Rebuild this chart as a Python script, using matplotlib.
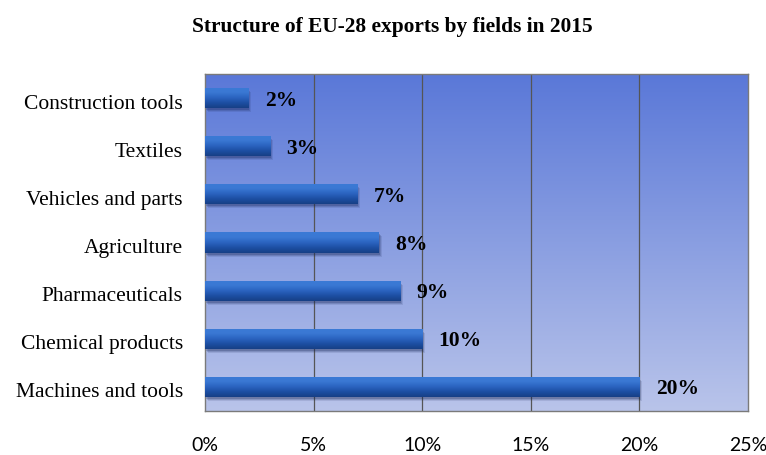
import matplotlib

matplotlib.use("Agg")
import matplotlib.pyplot as plt
import numpy as np
from matplotlib import transforms
from matplotlib.colors import LinearSegmentedColormap

categories = [
    "Construction tools",
    "Textiles",
    "Vehicles and parts",
    "Agriculture",
    "Pharmaceuticals",
    "Chemical products",
    "Machines and tools",
]
shares = [2, 3, 7, 8, 9, 10, 20]
x_ticks = [0, 5, 10, 15, 20, 25]
x_tick_labels = ["0%", "5%", "10%", "15%", "20%", "25%"]
title = "Structure of EU-28 exports by fields in 2015"

serif = "Liberation Serif"
sans = "Lato"

fig = plt.figure(figsize=(7.66, 4.56), dpi=100)
ax = fig.add_axes([0.2676, 0.0965, 0.7089, 0.739])

y = np.arange(len(categories))
ax.set_xlim(0, 25)
ax.set_ylim(len(categories) - 0.5, -0.5)

# background gradient of the plot area
bg_cmap = LinearSegmentedColormap.from_list("bg", ["#5a78d8", "#b9c4ea"])
ax.imshow(
    np.linspace(0, 1, 256).reshape(-1, 1),
    cmap=bg_cmap,
    aspect="auto",
    extent=(0, 25, len(categories) - 0.5, -0.5),
    zorder=0,
)

for tick in x_ticks[1:-1]:
    ax.axvline(tick, color="#555555", linewidth=0.9, zorder=1)

# soft bar shadows
for off, alpha in [(4, 0.12), (3, 0.18), (2, 0.25)]:
    shadow = transforms.offset_copy(ax.transData, fig=fig, x=off - 1, y=-off, units="dots")
    ax.barh(y, shares, height=0.42, color="#1a2a5a", alpha=alpha,
            transform=shadow, zorder=2)

bars = ax.barh(y, shares, height=0.42, color="#2a62c0", zorder=3)
bar_cmap = LinearSegmentedColormap.from_list(
    "bar", ["#3b7ad6", "#3a78d3", "#2b63c0", "#1d4fa3", "#173f86"]
)
for bar in bars:
    img = ax.imshow(
        np.linspace(0, 1, 64).reshape(-1, 1),
        cmap=bar_cmap,
        aspect="auto",
        extent=(0, 25, bar.get_y() + bar.get_height(), bar.get_y()),
        zorder=4,
    )
    img.set_clip_path(bar)

for yi, value in zip(y, shares):
    ax.text(
        value + 0.75,
        yi + 0.03,
        f"{value}%",
        va="center",
        ha="left",
        fontsize=15.5,
        fontweight="bold",
        family=serif,
        zorder=5,
    )

ax.set_xlim(0, 25)
ax.set_ylim(len(categories) - 0.5, -0.5)
ax.set_yticks(y, categories, family=serif, fontsize=15.5)
ax.set_xticks(x_ticks, x_tick_labels, family=sans, fontsize=14)
ax.tick_params(axis="both", length=0)
ax.tick_params(axis="y", pad=16)
ax.tick_params(axis="x", pad=18)
shift_down = transforms.ScaledTranslation(0, -2.5 / 100, fig.dpi_scale_trans)
for label in ax.get_yticklabels():
    label.set_transform(label.get_transform() + shift_down)
for spine in ax.spines.values():
    spine.set_color("#7a7a7a")
    spine.set_linewidth(1.0)

fig.text(0.512, 0.94, title, ha="center", va="center", fontsize=15.4,
         fontweight="bold", family=serif)

fig.savefig("out.png", dpi=100)
